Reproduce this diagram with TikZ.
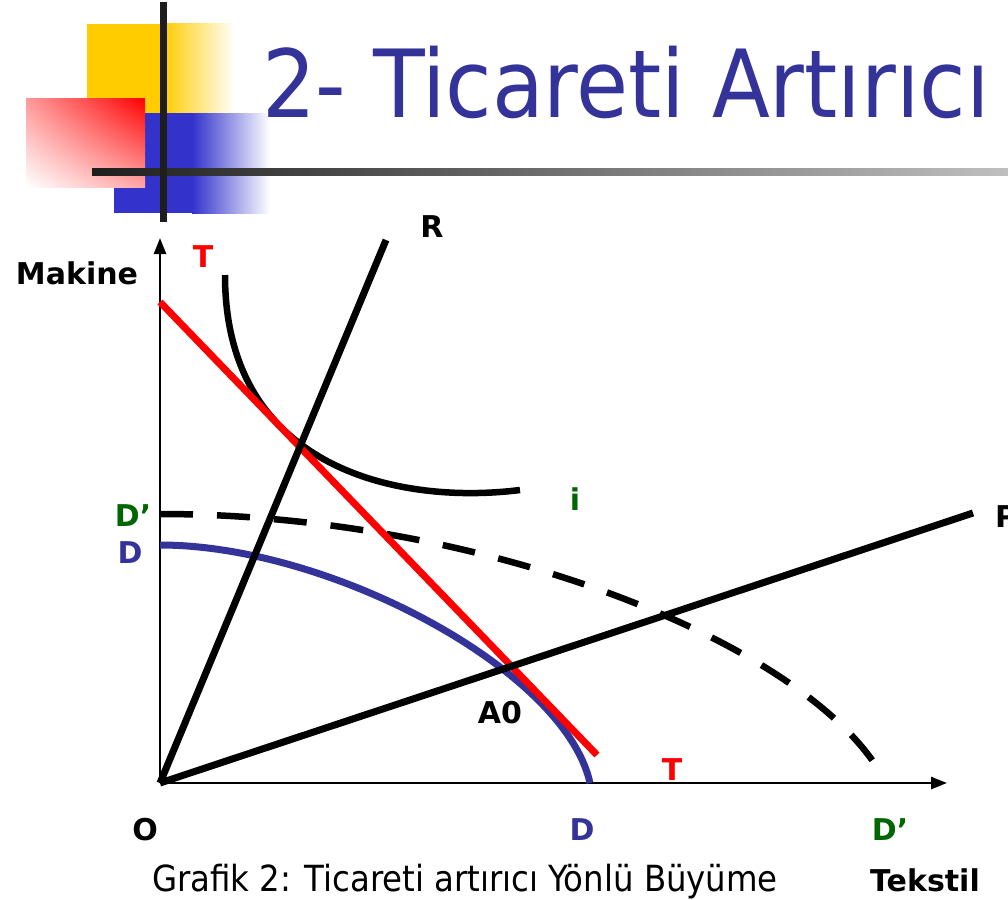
\documentclass[tikz,border=0pt]{standalone}
\usepackage{fontspec}
\setmainfont{DejaVu Sans}
\newfontfamily\condfont{DejaVuSansCondensed.ttf}
\usetikzlibrary{arrows.meta,shadings}
\definecolor{titleblue}{HTML}{333399}
\definecolor{ppfgreen}{HTML}{006600}
\definecolor{boxyellow}{HTML}{FFCC00}
\definecolor{boxblue}{HTML}{3333CC}
\definecolor{barblack}{HTML}{1E1E1E}
\tikzset{
  lbl/.style={font=\bfseries\fontsize{30}{30}\selectfont, inner sep=0pt},
  bold line/.style={line width=7pt},
  axis/.style={line width=2.5pt, -{Triangle[length=16pt,width=12pt]}},
}
\begin{document}
\begin{tikzpicture}[x=1pt,y=-1pt]
\useasboundingbox (0,0) rectangle (1008,899);
% logo squares
\fill[boxyellow] (87,24) rectangle (163,113);
\shade[left color=boxyellow, right color=white] (163,24) rectangle (235,113);
\fill[boxblue] (114,113) rectangle (192,213);
\shade[left color=boxblue, right color=white] (192,113) rectangle (270,213);
\shade[upper right=red, lower left=white, upper left=red!40!white, lower right=red!35!white] (26,98) rectangle (145,187);
\shade[left color=barblack, right color=black!25] (92,168) rectangle (1008,175);
\fill[barblack] (160,2) rectangle (167,222);
\node[anchor=base west, text=titleblue, font=\condfont\fontsize{94}{94}\selectfont, inner sep=0pt] (title) at (262,117) {2- Ticareti Artırıcı};

% axes
\coordinate (O) at (160,783);
\coordinate (ytip) at (160,238);
\coordinate (xtip) at (947,783);
\draw[axis] (O) -- (ytip);
\draw[axis] (O) -- (xtip);

% curves and lines
\coordinate (Rend) at (386,240);
\coordinate (Pend) at (973,513);
\draw[titleblue, line width=7pt] (160,545) .. controls (330,545) and (565,670) .. (590,783);
\draw[line width=6.5pt, dash pattern=on 33pt off 24pt] (160,514) .. controls (480,514) and (800,640) .. (880,772);
\draw[line width=6.5pt] (225,275) .. controls (225,470) and (400,505) .. (520,490);
\draw[red, line width=7pt] (160,302) -- (597,755);
\draw[bold line] (O) -- (Rend);
\draw[bold line] (O) -- (Pend);

% labels
\node[lbl] (mak) at (77,273) {Makine};
\node[lbl, text=red] (t1) at (203,257) {T};
\node[lbl] (r) at (432,227) {R};
\node[lbl, text=ppfgreen] (i) at (575,499) {i};
\node[lbl, text=ppfgreen] (d1) at (133,516) {D’};
\node[lbl, text=titleblue] (d0) at (130,553) {D};
\node[lbl, anchor=west] (p) at (995,517) {P};
\node[lbl] (a0) at (500,713) {A0};
\node[lbl, text=red] (t2) at (672,770) {T};
\node[lbl] (o) at (145,830) {O};
\node[lbl, text=titleblue] (d2) at (582,830) {D};
\node[lbl, text=ppfgreen] (d3) at (890,830) {D’};
\node[lbl] (tek) at (925,880) {Tekstil};
\node[font=\condfont\fontsize{36}{36}\selectfont, inner sep=0pt] (cap) at (465,882) {Grafik 2: Ticareti artırıcı Yönlü Büyüme};
\end{tikzpicture}
\end{document}
